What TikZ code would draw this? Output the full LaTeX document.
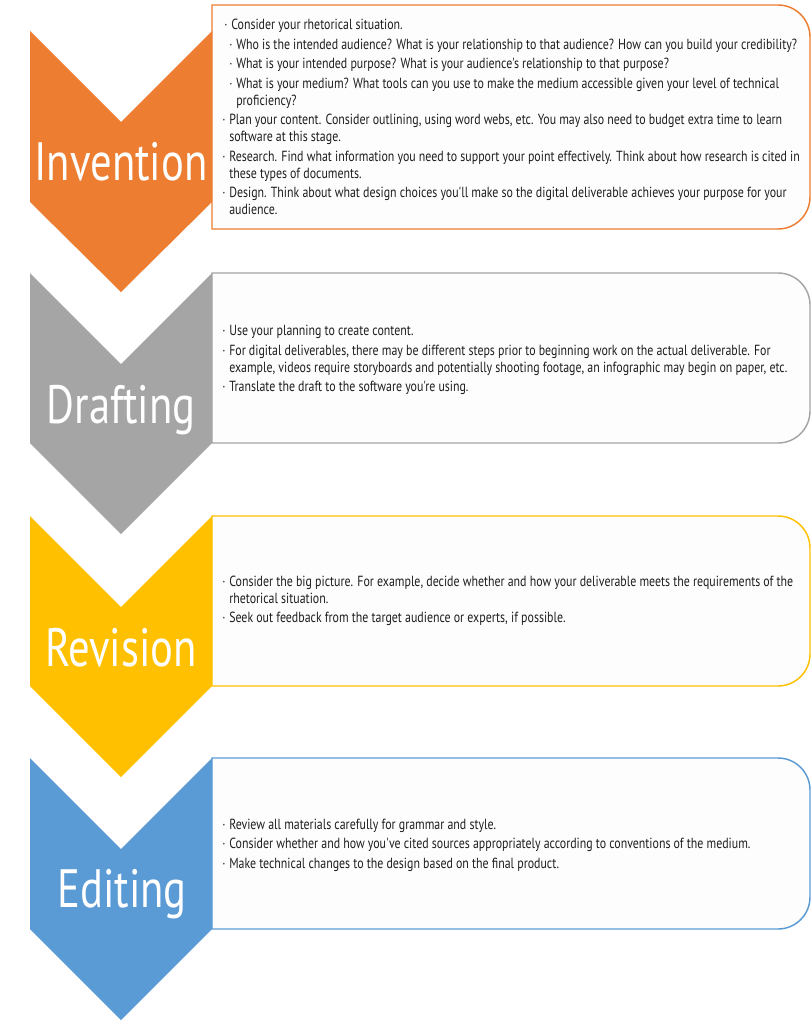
\documentclass[tikz,border=0pt]{standalone}
\usepackage{fontspec}
\newfontfamily\bodyfont{PT Sans}[FakeStretch=0.81]
\newfontfamily\stagefont{PT Sans}[FakeStretch=0.79]
\definecolor{invorange}{HTML}{ED7D31}
\definecolor{draftgray}{HTML}{A5A5A5}
\definecolor{revgold}{HTML}{FFC000}
\definecolor{editblue}{HTML}{5B9BD5}
\definecolor{panelfill}{HTML}{FDFDFD}
\definecolor{textgray}{HTML}{1E1E1E}
\newcommand{\bul}{\makebox[5.25pt][l]{·}}
\newcommand{\hang}{\hspace*{5.25pt}}
\tikzset{
  panel/.style={line width=1.1pt, fill=panelfill},
  chevron/.style={draw=none},
  stagelabel/.style={anchor=base, inner sep=0pt, text=white, font=\stagefont\fontsize{40.5}{40}\selectfont},
  bodytext/.style={anchor=west, inner sep=0pt, align=left, text=textgray, font=\bodyfont\fontsize{11}{12.75}\selectfont},
}

\begin{document}
\begin{tikzpicture}[x=0.75pt,y=0.75pt,yscale=-1,xscale=1]
\useasboundingbox (0,0) rectangle (812,1024);

%Shape: Panel [id:invention]
\draw [panel, draw=invorange] (212,5) -- (778,5) arc[start angle=-90, end angle=0, radius=32] -- (810,197) arc[start angle=0, end angle=90, radius=32] -- (212,229) -- cycle ;
%Shape: Chevron [id:invention]
\fill [chevron, fill=invorange] (30,31) -- (121,122) -- (212,31) -- (212,202) -- (121,292) -- (30,202) -- cycle ;

%Shape: Panel [id:drafting]
\draw [panel, draw=draftgray] (212,273) -- (778,273) arc[start angle=-90, end angle=0, radius=32] -- (810,411) arc[start angle=0, end angle=90, radius=32] -- (212,443) -- cycle ;
%Shape: Chevron [id:drafting]
\fill [chevron, fill=draftgray] (30,273) -- (121,364) -- (212,273) -- (212,443) -- (121,534) -- (30,443) -- cycle ;

%Shape: Panel [id:revision]
\draw [panel, draw=revgold] (212,516) -- (778,516) arc[start angle=-90, end angle=0, radius=32] -- (810,654) arc[start angle=0, end angle=90, radius=32] -- (212,686) -- cycle ;
%Shape: Chevron [id:revision]
\fill [chevron, fill=revgold] (30,516) -- (121,607) -- (212,516) -- (212,686) -- (121,777) -- (30,686) -- cycle ;

%Shape: Panel [id:editing]
\draw [panel, draw=editblue] (212,758) -- (778,758) arc[start angle=-90, end angle=0, radius=32] -- (810,897) arc[start angle=0, end angle=90, radius=32] -- (212,929) -- cycle ;
%Shape: Chevron [id:editing]
\fill [chevron, fill=editblue] (30,758) -- (121,849) -- (212,758) -- (212,929) -- (121,1020) -- (30,929) -- cycle ;

% Text Node
\node [stagelabel] (invention) at (121,180) {Invention};
% Text Node
\node [stagelabel] (drafting) at (121,423) {Drafting};
% Text Node
\node [stagelabel] (revision) at (121,666) {Revision};
% Text Node
\node [stagelabel] (editing) at (122,907) {Editing};

% Text Node
\node [bodytext] (invention-text) at (222,117) {\hspace*{1.5pt}\bul Consider your rhetorical situation.\\[1.9pt]
\hang\bul Who is the intended audience? What is your relationship to that audience? How can you build your credibility?\\[1.9pt]
\hang\bul What is your intended purpose? What is your audience's relationship to that purpose?\\[1.9pt]
\hang\bul What is your medium? What tools can you use to make the medium accessible given your level of technical\\
\hang\hang proficiency?\\[1.9pt]
\bul Plan your content. Consider outlining, using word webs, etc. You may also need to budget extra time to learn\\
\hang software at this stage.\\[1.9pt]
\bul Research. Find what information you need to support your point effectively. Think about how research is cited in\\
\hang these types of documents.\\[1.9pt]
\bul Design. Think about what design choices you'll make so the digital deliverable achieves your purpose for your\\
\hang audience.};
% Text Node
\node [bodytext] (drafting-text) at (222,360) {\bul Use your planning to create content.\\[1.9pt]
\bul For digital deliverables, there may be different steps prior to beginning work on the actual deliverable. For\\
\hang example, videos require storyboards and potentially shooting footage, an infographic may begin on paper, etc.\\[1.9pt]
\bul Translate the draft to the software you're using.};
% Text Node
\node [bodytext] (revision-text) at (222,601) {\bul Consider the big picture. For example, decide whether and how your deliverable meets the requirements of the\\
\hang rhetorical situation.\\[1.9pt]
\bul Seek out feedback from the target audience or experts, if possible.};
% Text Node
\node [bodytext] (editing-text) at (222,845) {\bul Review all materials carefully for grammar and style.\\[1.9pt]
\bul Consider whether and how you've cited sources appropriately according to conventions of the medium.\\[1.9pt]
\bul Make technical changes to the design based on the final product.};

\end{tikzpicture}
\end{document}
